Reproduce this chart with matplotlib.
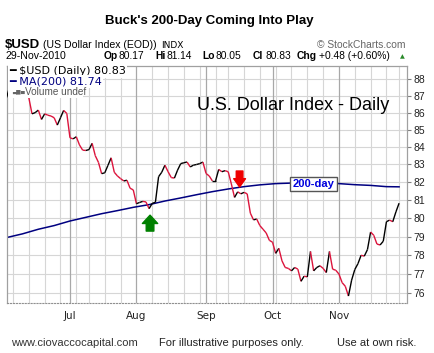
import numpy as np
import pandas as pd
import matplotlib
matplotlib.use('Agg')
import matplotlib.pyplot as plt
from matplotlib.collections import LineCollection
from matplotlib.patches import Rectangle
from matplotlib.ticker import NullLocator

plt.rcParams['font.family'] = ['Liberation Sans', 'DejaVu Sans']

# trading days, Jun 3 - Nov 29 2010 (exchange holidays dropped)
holidays = ['2010-07-05', '2010-09-06', '2010-11-25']
dates = pd.bdate_range('2010-06-03', '2010-11-29')
dates = dates[~dates.isin(pd.to_datetime(holidays))]

# $USD daily close
close = [86.9, 87.6, 88.2, 87.9, 87.6, 87.4, 87.5, 86.88, 85.93, 86.0,
         86.15, 85.6, 85.93, 85.85, 85.8, 85.7, 85.27, 85.7, 86.13, 85.95,
         84.53, 84.47, 84.59, 84.12, 83.82, 83.8, 83.85, 84.21, 83.5, 83.12,
         82.48, 82.53, 82.95, 83.38, 82.56, 82.35, 82.2, 82.07, 82.11, 81.66,
         81.57, 80.8, 80.87, 80.93, 80.9, 80.53, 80.82, 80.88, 82.31, 82.56,
         82.96, 82.59, 82.26, 82.23, 82.68, 83.05, 83.1, 83.14, 82.86, 82.96,
         83.0, 83.05, 83.14, 82.49, 82.35, 82.07, 82.07, 82.72, 82.59, 82.65,
         82.59, 81.9, 81.15, 81.46, 81.35, 81.43, 81.35, 80.28, 79.91, 79.96,
         79.6, 79.4, 79.2, 78.8, 78.7, 78.1, 78.37, 77.7, 77.35, 77.3,
         77.17, 77.35, 77.26, 76.62, 76.89, 76.85, 78.2, 77.17, 77.35, 77.44,
         77.3, 77.08, 78.2, 77.26, 77.2, 77.0, 76.55, 76.36, 75.85, 76.68,
         77.24, 77.55, 78.0, 77.95, 78.3, 79.25, 79.07, 78.6, 78.55, 78.75,
         79.81, 79.9, 79.81, 80.35, 80.83]

# 200-day moving average, sampled weekly
ma_idx = [0, 5, 10, 15, 20, 25, 30, 35, 40, 45, 50, 55, 60, 65, 70, 75, 80,
          85, 90, 95, 100, 105, 110, 115, 120, 124]
ma200 = [78.95, 79.15, 79.4, 79.6, 79.85, 80.05, 80.25, 80.42, 80.6, 80.75,
         80.95, 81.12, 81.3, 81.47, 81.62, 81.75, 81.85, 81.92, 81.95, 81.95,
         81.95, 81.92, 81.86, 81.82, 81.75, 81.74]

y_ticks = list(range(76, 89))

W, H = 435, 353
def px(x, y):
    return x / W, 1 - y / H

fig = plt.figure(figsize=(W / 100, H / 100), dpi=100)
ax = fig.add_axes([7 / W, 50 / H, 400 / W, 237 / H])
ax.set_yscale('log')
ax.set_ylim(75.49, 88.79)
ax.set_xlim(0.1, 126.5)

x = np.arange(len(close))
months = dates.month.values
month_idx = [i for i in range(1, len(dates)) if months[i] != months[i - 1]]
week_idx = [i for i in range(1, len(dates))
            if dates[i].weekday() < dates[i - 1].weekday() and i not in month_idx]

for v in y_ticks:
    ax.axhline(v, color='#d6d6d6', lw=0.8, zorder=0)
for i in week_idx:
    ax.axvline(i, color='#d6d6d6', lw=0.8, zorder=0)
for i in month_idx:
    ax.axvline(i, color='#a8a8a8', lw=0.9, zorder=0)

# price line: red on down days, black on up days
c = np.array(close)
segs = [[(x[i], c[i]), (x[i + 1], c[i + 1])] for i in range(len(c) - 1)]
cols = ['#dc143c' if c[i + 1] < c[i] else 'black' for i in range(len(c) - 1)]
ax.add_collection(LineCollection(segs, colors=cols, linewidths=1.0, zorder=3))

ax.plot(ma_idx, ma200, color='#000080', lw=1.1, zorder=2)

# axes styling
ax.yaxis.tick_right()
ax.set_yticks(y_ticks)
ax.yaxis.set_minor_locator(NullLocator())
ax.set_yticklabels([str(v) for v in y_ticks])
ax.tick_params(axis='y', direction='out', length=3, pad=1.5, labelsize=7.5,
               color='#808080', labelcolor='#222222')
ax.set_xticks(month_idx)
ax.set_xticklabels([d.strftime('%b') for d in dates[month_idx]],
                   family='DejaVu Sans')
ax.tick_params(axis='x', length=0, pad=6, labelsize=7.5, labelcolor='#222222')
for s in ['left', 'right', 'top']:
    ax.spines[s].set_color('#a0a0a0')
    ax.spines[s].set_linewidth(0.9)
ax.spines['bottom'].set_color('#909090')
ax.spines['bottom'].set_linestyle(':')

# legend block (white panel in the top-left corner)
fig.add_artist(Rectangle(px(7.6, 98), 75.4 / W, 31.5 / H, transform=fig.transFigure,
                         fc='white', ec='none', zorder=2))
fig.text(*px(9, 71.5), '\u2501 $USD (Daily) 80.83', color='black', fontsize=8,
         family='DejaVu Sans', va='center', ha='left', zorder=10,
         bbox=dict(boxstyle='square,pad=0.12', fc='white', ec='none'))
fig.text(*px(9, 81.7), '\u2501 MA(200) 81.74', color='#000080', fontsize=8,
         family='DejaVu Sans', va='center', ha='left', zorder=10,
         bbox=dict(boxstyle='square,pad=0.12', fc='white', ec='none'))
fig.text(*px(12, 92), '\u2583\u2586\u2584', color='#666666', fontsize=4,
         family='DejaVu Sans', va='center', ha='left', zorder=10)
fig.text(*px(25, 92), 'Volume undef', color='#555555', fontsize=7.2,
         va='center', ha='left', zorder=10)

# arrows and labels on the chart
ax.annotate('', xy=(45.3, 80.17), xytext=(45.3, 79.3),
            arrowprops=dict(arrowstyle='simple,head_length=0.6,head_width=1.1,tail_width=0.55',
                            color='#008000', shrinkA=0, shrinkB=0, mutation_scale=10), zorder=5)
ax.annotate('', xy=(73.6, 81.73), xytext=(73.6, 82.63),
            arrowprops=dict(arrowstyle='simple,head_length=0.6,head_width=0.85,tail_width=0.48',
                            color='#ee0000', shrinkA=0, shrinkB=0, mutation_scale=10), zorder=5)
ax.text(97, 81.9, '200-day', ha='center', va='center', color='#0000dd',
        fontweight='bold', fontsize=8, zorder=6,
        bbox=dict(boxstyle='square,pad=0.2', fc='white', ec='#555555', lw=1))
fig.text(*px(197, 105), 'U.S. Dollar Index - Daily', fontsize=13, va='center', ha='left')

# header
fig.text(*px(209, 21), "Buck's 200-Day Coming Into Play", fontsize=9.5,
         fontweight='bold', ha='center', va='center')
fig.text(*px(5, 48), '$USD', fontsize=9.5, fontweight='bold', va='baseline')
fig.text(*px(43, 48), '(US Dollar Index (EOD))', fontsize=7.6, va='baseline')
fig.text(*px(161, 48), 'INDX', fontsize=6.5, family='DejaVu Sans', va='baseline')
fig.text(*px(406, 48), '\u00a9 StockCharts.com', fontsize=7.4, color='#666666',
         ha='right', va='baseline')
fig.text(*px(6, 59), '29-Nov-2010', fontsize=7.6, va='baseline')
quote = [('Op', 104, True), ('80.17', 119, False), ('Hi', 155, True),
         ('81.14', 167, False), ('Lo', 202, True), ('80.05', 216, False),
         ('Cl', 253, True), ('80.83', 265, False), ('Chg', 297, True),
         ('+0.48 (+0.60%)', 319, False)]
for t, xx, b in quote:
    fig.text(*px(xx, 59), t, fontsize=7.4, va='baseline',
             fontweight='bold' if b else 'normal')
fig.text(*px(400, 58), '\u25b2', fontsize=4.5, color='#2a8a2a',
         family='DejaVu Sans', va='baseline')

# footer
fig.text(*px(11, 343), 'www.ciovaccocapital.com', fontsize=8, color='#333333', va='center')
fig.text(*px(159, 343), 'For illustrative purposes only.', fontsize=8, color='#222222', va='center')
fig.text(*px(337, 343), 'Use at own risk.', fontsize=8, color='#222222', va='center')

fig.savefig('out.png', dpi=100)
